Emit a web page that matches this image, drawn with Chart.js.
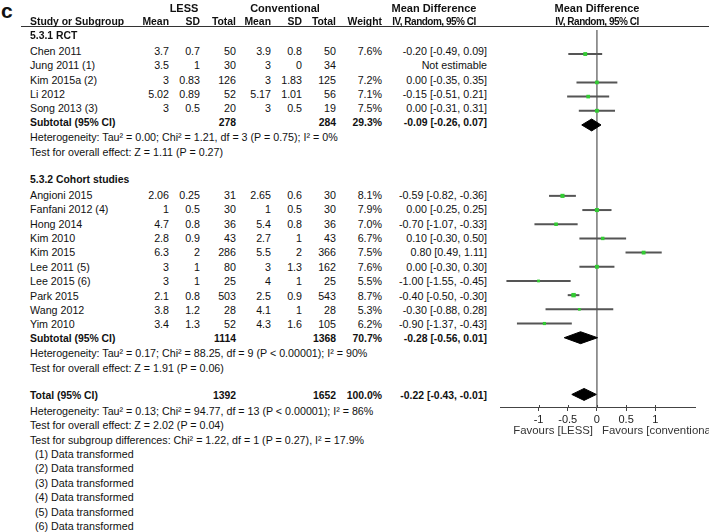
<!DOCTYPE html>
<html lang="en">
<head>
<meta charset="UTF-8" />
<title>Forest plot: LESS vs conventional</title>
<script src="https://cdn.jsdelivr.net/npm/chart.js"></script>
<style>
  html, body { margin: 0; padding: 0; background: #fff; }
  #page {
    position: relative; width: 709px; height: 532px; overflow: hidden;
    font-family: 'Liberation Sans', Arial, sans-serif; font-size: 10.7px; color: #111;
  }
  #page div.t { position: absolute; white-space: nowrap; line-height: 14px; height: 14px; }
  .b { font-weight: bold; font-size: 10.4px; }
  .h { font-weight: bold; font-size: 11px; }
  .iv { font-weight: bold; font-size: 10px; letter-spacing: -0.5px; }
  .fav { font-size: 11.4px; color: #333; }
  #hline { position: absolute; left: 21px; top: 26px; width: 688px; height: 1px; background: #333; }
  #plot { position: absolute; left: 496px; top: 0; }
</style>
</head>
<body>
<div id="page">
  <div id="hline"></div>
  <canvas id="plot" width="203" height="532" style="width:203px;height:532px"></canvas>
</div>
<script>
// ---- data ----
const studies = ['Chen 2011', 'Jung 2011 (1)', 'Kim 2015a (2)', 'Li 2012', 'Song 2013 (3)',
  'Angioni 2015', 'Fanfani 2012 (4)', 'Hong 2014', 'Kim 2010', 'Kim 2015', 'Lee 2011 (5)',
  'Lee 2015 (6)', 'Park 2015', 'Wang 2012', 'Yim 2010'];
const studyGroup = [0, 0, 0, 0, 0, 1, 1, 1, 1, 1, 1, 1, 1, 1, 1];
const lessMean = [3.7, 3.5, 3, 5.02, 3, 2.06, 1, 4.7, 2.8, 6.3, 3, 3, 2.1, 3.8, 3.4];
const lessSD = [0.7, 1, 0.83, 0.89, 0.5, 0.25, 0.5, 0.8, 0.9, 2, 1, 1, 0.8, 1.2, 1.3];
const lessN = [50, 30, 126, 52, 20, 31, 30, 36, 43, 286, 80, 25, 503, 28, 52];
const convMean = [3.9, 3, 3, 5.17, 3, 2.65, 1, 5.4, 2.7, 5.5, 3, 4, 2.5, 4.1, 4.3];
const convSD = [0.8, 0, 1.83, 1.01, 0.5, 0.6, 0.5, 0.8, 1, 2, 1.3, 1, 0.9, 1, 1.6];
const convN = [50, 34, 125, 56, 19, 30, 30, 36, 43, 366, 162, 25, 543, 28, 105];
const weight = [7.6, null, 7.2, 7.1, 7.5, 8.1, 7.9, 7.0, 6.7, 7.5, 7.6, 5.5, 8.7, 5.3, 6.2];
const md = [-0.20, null, 0.00, -0.15, 0.00, -0.59, 0.00, -0.70, 0.10, 0.80, 0.00, -1.00, -0.40, -0.30, -0.90];
const ciLow = [-0.49, null, -0.35, -0.51, -0.31, -0.82, -0.25, -1.07, -0.30, 0.49, -0.30, -1.55, -0.50, -0.88, -1.37];
const ciHigh = [0.09, null, 0.35, 0.21, 0.31, -0.36, 0.25, -0.33, 0.50, 1.11, 0.30, -0.45, -0.30, 0.28, -0.43];

const groupNames = ['5.3.1 RCT', '5.3.2 Cohort studies'];
const groupLessN = [278, 1114];
const groupConvN = [284, 1368];
const groupWeight = [29.3, 70.7];
const groupMD = [-0.09, -0.28];
const groupLow = [-0.26, -0.56];
const groupHigh = [0.07, 0.01];
const groupHet = ['Heterogeneity: Tau\u00b2 = 0.00; Chi\u00b2 = 1.21, df = 3 (P = 0.75); I\u00b2 = 0%',
  'Heterogeneity: Tau\u00b2 = 0.17; Chi\u00b2 = 88.25, df = 9 (P < 0.00001); I\u00b2 = 90%'];
const groupTest = ['Test for overall effect: Z = 1.11 (P = 0.27)', 'Test for overall effect: Z = 1.91 (P = 0.06)'];

const totalLessN = 1392, totalConvN = 1652, totalWeight = 100.0;
const totalMD = -0.22, totalLow = -0.43, totalHigh = -0.01;
const totalNotes = ['Heterogeneity: Tau\u00b2 = 0.13; Chi\u00b2 = 94.77, df = 13 (P < 0.00001); I\u00b2 = 86%',
  'Test for overall effect: Z = 2.02 (P = 0.04)',
  'Test for subgroup differences: Chi\u00b2 = 1.22, df = 1 (P = 0.27), I\u00b2 = 17.9%'];
const footnotes = ['(1) Data transformed', '(2) Data transformed', '(3) Data transformed',
  '(4) Data transformed', '(5) Data transformed', '(6) Data transformed'];
const tickValues = [-1, -0.5, 0, 0.5, 1];

// ---- layout ----
const ROW0 = 7.6, ROW_H = 14.4, H = 532;
const rowY = n => ROW0 + ROW_H * n;
const groupStart = [2, 12];            // row of group heading
const totalRow = 27;
const axisRow = (410 - ROW0) / ROW_H;
const headRow = (26.5 - ROW0) / ROW_H;
const col = { mL: 169, sL: 200, nL: 236, mC: 271, sC: 302, nC: 336, w: 382, ci: 487 };

const page = document.getElementById('page');
function put(text, x, y, align, cls) {
  const d = document.createElement('div');
  d.className = 't' + (cls ? ' ' + cls : '');
  d.textContent = text;
  d.style.top = (y - 7) + 'px';
  if (align === 'right') { d.style.left = (x - 300) + 'px'; d.style.width = '300px'; d.style.textAlign = 'right'; }
  else if (align === 'center') { d.style.left = (x - 150) + 'px'; d.style.width = '300px'; d.style.textAlign = 'center'; }
  else d.style.left = x + 'px';
  page.appendChild(d);
  return d;
}
const f2 = v => v.toFixed(2);
const ciText = (m, l, h) => f2(m) + ' [' + f2(l) + ', ' + f2(h) + ']';

// headers
const c = put('c', 1, 11, 'left', 'h'); c.style.fontSize = '21px';
put('LESS', 184, rowY(0), 'center', 'h');
put('Conventional', 285, rowY(0), 'center', 'h');
put('Mean Difference', 434, rowY(0), 'center', 'h');
put('Mean Difference', 597, rowY(0), 'center', 'h');
put('Study or Subgroup', 30, rowY(1), 'left', 'b');
put('Mean', col.mL, rowY(1), 'right', 'b');
put('SD', col.sL, rowY(1), 'right', 'b');
put('Total', col.nL, rowY(1), 'right', 'b');
put('Mean', col.mC, rowY(1), 'right', 'b');
put('SD', col.sC, rowY(1), 'right', 'b');
put('Total', col.nC, rowY(1), 'right', 'b');
put('Weight', col.w, rowY(1), 'right', 'b');
put('IV, Random, 95% CI', 434, rowY(1), 'center', 'iv');
put('IV, Random, 95% CI', 597, rowY(1), 'center', 'iv');

// study rows
const studyRow = [];
const counter = [0, 0];
studies.forEach((s, i) => {
  const g = studyGroup[i];
  const r = groupStart[g] + 1 + counter[g]++;
  studyRow.push(r);
  const y = rowY(r);
  put(s, 30, y, 'left');
  put(String(lessMean[i]), col.mL, y, 'right');
  put(String(lessSD[i]), col.sL, y, 'right');
  put(String(lessN[i]), col.nL, y, 'right');
  put(String(convMean[i]), col.mC, y, 'right');
  put(String(convSD[i]), col.sC, y, 'right');
  put(String(convN[i]), col.nC, y, 'right');
  if (md[i] === null) put('Not estimable', col.ci, y, 'right');
  else {
    put(weight[i].toFixed(1) + '%', col.w, y, 'right');
    put(ciText(md[i], ciLow[i], ciHigh[i]), col.ci, y, 'right');
  }
});

// group headings and subtotals
const subRow = [];
groupNames.forEach((g, k) => {
  put(g, 30, rowY(groupStart[k]), 'left', 'b');
  const n = studyGroup.filter(v => v === k).length;
  const r = groupStart[k] + 1 + n;
  subRow.push(r);
  put('Subtotal (95% CI)', 30, rowY(r), 'left', 'b');
  put(String(groupLessN[k]), col.nL, rowY(r), 'right', 'b');
  put(String(groupConvN[k]), col.nC, rowY(r), 'right', 'b');
  put(groupWeight[k].toFixed(1) + '%', col.w, rowY(r), 'right', 'b');
  put(ciText(groupMD[k], groupLow[k], groupHigh[k]), col.ci, rowY(r), 'right', 'b');
  put(groupHet[k], 30, rowY(r + 1), 'left');
  put(groupTest[k], 30, rowY(r + 2), 'left');
});

// overall
put('Total (95% CI)', 30, rowY(totalRow), 'left', 'b');
put(String(totalLessN), col.nL, rowY(totalRow), 'right', 'b');
put(String(totalConvN), col.nC, rowY(totalRow), 'right', 'b');
put(totalWeight.toFixed(1) + '%', col.w, rowY(totalRow), 'right', 'b');
put(ciText(totalMD, totalLow, totalHigh), col.ci, rowY(totalRow), 'right', 'b');
totalNotes.forEach((s, k) => put(s, 30, rowY(totalRow + 1 + k), 'left'));
footnotes.forEach((s, k) => put(s, 35, rowY(totalRow + 4 + k), 'left'));

put('Favours [LESS]', 593, 430, 'right', 'fav');
put('Favours [conventional]', 602, 430, 'left', 'fav');

// ---- forest plot ----
const DIA = 0.42; // diamond half height in rows
function diamond(m, l, h, r) {
  return [{ x: l, y: r }, { x: m, y: r - DIA }, { x: h, y: r }, { x: m, y: r + DIA }, { x: l, y: r }];
}
const datasets = [];
const idx = studies.map((_, i) => i).filter(i => md[i] !== null);

datasets.push({
  label: 'studies', order: 0,
  data: idx.map(i => ({ x: md[i], y: studyRow[i] })),
  pointStyle: 'rect',
  pointRadius: idx.map(i => weight[i] * 0.36),
  backgroundColor: '#33cc33', borderWidth: 0
});
groupNames.forEach((g, k) => datasets.push({
  label: g, order: 1, showLine: true, pointRadius: 0,
  data: diamond(groupMD[k], groupLow[k], groupHigh[k], subRow[k]),
  borderColor: '#000', borderWidth: 1, backgroundColor: '#000', fill: 'shape'
}));
datasets.push({
  label: 'total', order: 1, showLine: true, pointRadius: 0,
  data: diamond(totalMD, totalLow, totalHigh, totalRow),
  borderColor: '#000', borderWidth: 1, backgroundColor: '#000', fill: 'shape'
});
idx.forEach(i => datasets.push({
  label: studies[i], order: 2, showLine: true, pointRadius: 0,
  data: [{ x: ciLow[i], y: studyRow[i] }, { x: ciHigh[i], y: studyRow[i] }],
  borderColor: '#555', borderWidth: 2
}));
datasets.push({
  label: 'no effect', order: 3, showLine: true, pointRadius: 0,
  data: [{ x: 0, y: headRow }, { x: 0, y: axisRow }],
  borderColor: '#777', borderWidth: 1.5
});

// short tick stubs above the axis line (the library draws the part below)
const upTicks = {
  id: 'upTicks',
  afterDraw(chart) {
    const s = chart.scales.x, ctx = chart.ctx;
    const ay = Math.round(chart.scales.y.getPixelForValue(axisRow));
    ctx.save();
    ctx.strokeStyle = '#444';
    ctx.lineWidth = 1;
    s.ticks.forEach(t => {
      const px = Math.round(s.getPixelForValue(t.value)) + 0.5;
      ctx.beginPath();
      ctx.moveTo(px, ay - 3);
      ctx.lineTo(px, ay);
      ctx.stroke();
    });
    ctx.restore();
  }
};

new Chart(document.getElementById('plot'), {
  type: 'scatter',
  data: { datasets },
  plugins: [upTicks],
  options: {
    responsive: false,
    animation: false,
    layout: { padding: 0 },
    plugins: { legend: { display: false }, tooltip: { enabled: false } },
    scales: {
      x: {
        type: 'linear', min: -1.66, max: 1.68,
        position: { y: axisRow },
        afterBuildTicks: s => { s.ticks = tickValues.map(v => ({ value: v })); },
        grid: { drawOnChartArea: false, drawTicks: true, tickLength: 3, color: '#444' },
        border: { display: true, color: '#444', width: 1 },
        ticks: {
          color: '#222', padding: 3,
          font: { family: "'Liberation Sans', Arial, sans-serif", size: 11 },
          callback: v => String(v)
        }
      },
      y: {
        type: 'linear', display: false, reverse: true,
        min: -ROW0 / ROW_H, max: (H - ROW0) / ROW_H
      }
    }
  }
});
</script>
</body>
</html>
